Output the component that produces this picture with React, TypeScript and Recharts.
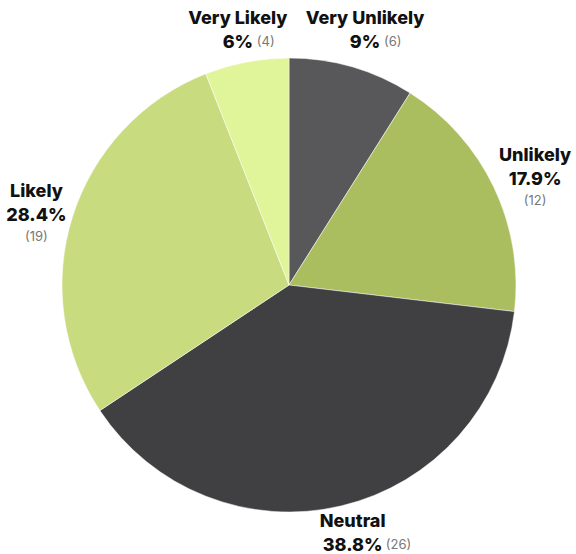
import React from 'react';
import { PieChart, Pie, Cell } from 'recharts';

const categories = ['Very Unlikely', 'Unlikely', 'Neutral', 'Likely', 'Very Likely'];
const counts = [6, 12, 26, 19, 4];
const percentLabels = ['9%', '17.9%', '38.8%', '28.4%', '6%'];
// whether the (n) count sits beside the percentage or on its own line
const countInline = [true, false, true, false, true];

const COLORS = ['#58585a', '#abbe5f', '#404042', '#c8db7f', '#e0f59a'];

const data = categories.map((name, i) => ({ name, value: counts[i] }));

const FONT = 'Inter, "DejaVu Sans", sans-serif';
const RAD = Math.PI / 180;
const W = 576;
const H = 554;

const estWidth = (s: string, size: number) =>
  s.split('').reduce((w, ch) => w + (ch === '.' ? 0.3 : ch === '%' ? 0.9 : ch === 'l' || ch === 'i' ? 0.3 : 0.64) * size, 0);

const renderLabel = (props: any) => {
  const { cx, cy, midAngle, outerRadius, index } = props;
  const r = outerRadius + 47;
  let x = cx + r * Math.cos(-midAngle * RAD);
  let y = cy + r * Math.sin(-midAngle * RAD);
  const name = categories[index];
  const half = estWidth(name, 18) / 2;
  x = Math.max(8 + half, Math.min(W - 4 - half, x));
  y = Math.max(29, Math.min(532, y));
  const pct = percentLabels[index];
  const count = `(${counts[index]})`;
  const inline = countInline[index];
  const pctW = estWidth(pct, 18);
  return (
    <g key={`label-${index}`} fontFamily={FONT}>
      <text x={x} y={y - 12} textAnchor="middle" dominantBaseline="central" fontSize={18} fontWeight={800} fill="#111">
        {name}
      </text>
      <text x={x} y={y + 12} textAnchor="middle" dominantBaseline="central" fontSize={18} fontWeight={800} fill="#111">
        {pct}
      </text>
      {inline ? (
        <text x={x + pctW / 2 + 5} y={y + 12} textAnchor="start" dominantBaseline="central" fontSize={13} fill="#777">
          {count}
        </text>
      ) : (
        <text x={x} y={y + 33} textAnchor="middle" dominantBaseline="central" fontSize={13} fill="#777">
          {count}
        </text>
      )}
    </g>
  );
};

export default function App() {
  return (
    <div style={{ position: 'absolute', left: 0, top: 0, width: W, height: H, background: '#fff' }}>
      <PieChart width={W} height={H} margin={{ top: 0, right: 0, bottom: 0, left: 0 }}>
        <Pie
          data={data}
          dataKey="value"
          cx={289}
          cy={285}
          outerRadius={227}
          startAngle={90}
          endAngle={-270}
          stroke="#ffffff"
          strokeWidth={0.5}
          label={renderLabel}
          labelLine={false}
          isAnimationActive={false}
        >
          {data.map((entry, index) => (
            <Cell key={`cell-${index}`} fill={COLORS[index]} />
          ))}
        </Pie>
      </PieChart>
    </div>
  );
}
